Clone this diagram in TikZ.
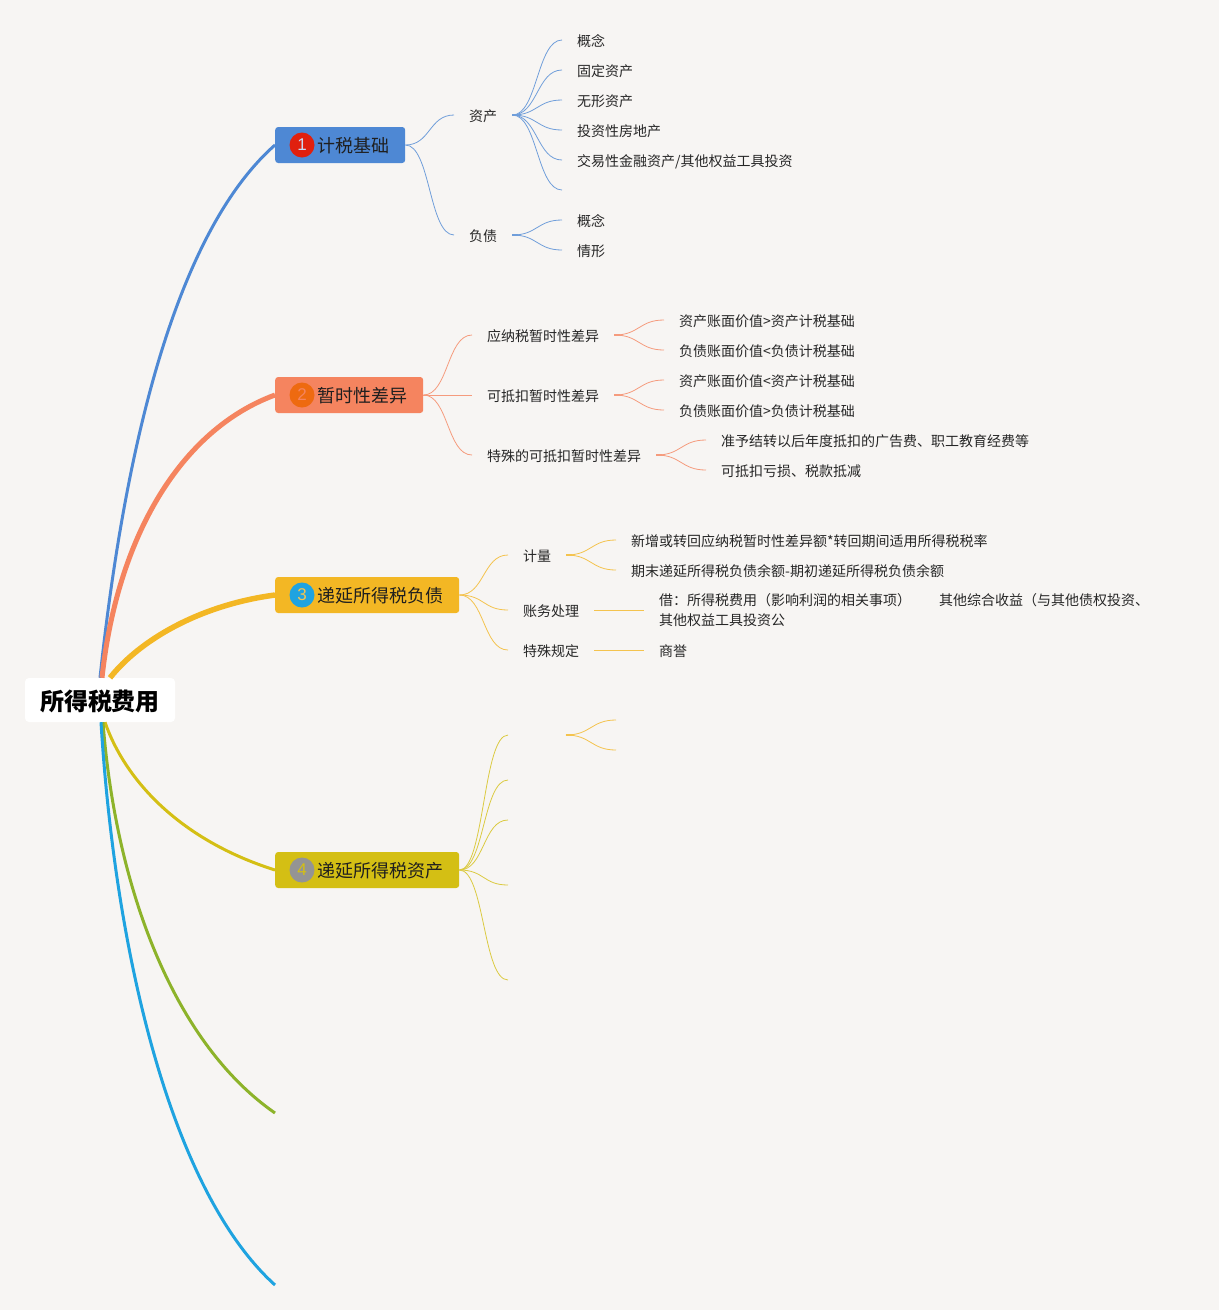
\documentclass[tikz,border=0pt]{standalone}
\usepackage{fontspec}
\setmainfont{Noto Sans CJK SC}
\newfontfamily\numfont{Liberation Sans}
\definecolor{bgc}{HTML}{F7F5F3}
\definecolor{cA}{HTML}{4E88D4}
\definecolor{cB}{HTML}{F5845F}
\definecolor{cC}{HTML}{F3B724}
\definecolor{cD}{HTML}{D4BF14}
\definecolor{cE}{HTML}{8DB32A}
\definecolor{cF}{HTML}{1FA3E0}
\definecolor{nA}{HTML}{E0200E}
\definecolor{nB}{HTML}{EE6A10}
\tikzset{
  root/.style={fill=white, rounded corners=4pt, minimum width=150pt, minimum height=44pt, inner sep=0pt, text height=22pt, text depth=.8pt, font=\fontsize{24}{24}\selectfont\bfseries},
  topic/.style={rounded corners=3pt, anchor=west, minimum height=36pt, inner ysep=0pt, inner xsep=0pt, text=black!88, text height=16.5pt, text depth=1.5pt, font=\fontsize{18}{18}\selectfont},
  badge/.style={circle, minimum size=25pt, inner sep=0pt, font=\fontsize{17}{17}\selectfont\numfont},
  leaf/.style={anchor=west, inner xsep=15pt, inner ysep=2pt, text=black!85, font=\fontsize{14}{14}\selectfont},
  oneline/.style={leaf, text height=13pt, text depth=1pt},
  twig/.style={line width=.8pt, #1!80!bgc},
  stub/.style={line width=1.8pt, #1!80!bgc},
}
\begin{document}
\begin{tikzpicture}[x=1pt, y=-1pt]
\fill[bgc] (0,0) rectangle (1219,1310);
\useasboundingbox (0,0) rectangle (1219,1310);

%main topics
\node[root] (rootA) at (100,700) {所得税费用};
\node[topic, fill=cA, minimum width=130pt] (topA) at (275,145) {\hspace*{27pt}计税基础};
\node[topic, fill=cB, minimum width=148pt] (topB) at (275,395) {\hspace*{27pt}暂时性差异};
\node[topic, fill=cC, minimum width=184pt] (topC) at (275,595) {\hspace*{27pt}递延所得税负债};
\node[topic, fill=cD, minimum width=184pt] (topD) at (275,870) {\hspace*{27pt}递延所得税资产};
\node[badge, fill=nA, text=cA!30!white] (numA) at (302,145) {1};
\node[badge, fill=nB, text=cB] (numB) at (302,395) {2};
\node[badge, fill=cF, text=cC!80!white] (numC) at (302,595) {3};
\node[badge, fill=black!42, text=cD] (numD) at (302,870) {4};
\coordinate (endE) at (275,1113);
\coordinate (endF) at (275,1285);

\draw[cA, line width=3pt] (rootA.north) .. controls +(30,-280) and +(-85,75) .. (topA.west);
\draw[cB, line width=5pt] ([xshift=2pt]rootA.north) .. controls +(15,-140) and +(-95,35) .. (topB.west);
\draw[cC, line width=5.5pt] ([xshift=10pt]rootA.north) .. controls +(30,-38) and +(-75,10) .. (topC.west);
\draw[cD, line width=3pt] ([xshift=5pt]rootA.south) .. controls +(20,58) and +(-95,-30) .. (topD.west);
\draw[cE, line width=3pt] ([xshift=3pt]rootA.south) .. controls +(12,158) and +(-105,-73) .. (endE);
\draw[cF, line width=3pt] ([xshift=1pt]rootA.south) .. controls +(14,228) and +(-105,-95) .. (endF);

%second level
\foreach \id/\xx/\yy/\txt in {
  zc/454/115/资产, fz/454/235/负债,
  yn/472/335/应纳税暂时性差异, kd/472/395/可抵扣暂时性差异, ts/472/455/特殊的可抵扣暂时性差异,
  jl/508/555/计量, zw/508/610/账务处理, gd/508/650/特殊规定,
  zcA/562/40/概念, zcB/562/70/固定资产, zcC/562/100/无形资产, zcD/562/130/投资性房地产,
  fzA/562/220/概念, fzB/562/250/情形,
  ynA/664/320/资产账面价值>资产计税基础, ynB/664/350/负债账面价值<负债计税基础,
  kdA/664/380/资产账面价值<资产计税基础, kdB/664/410/负债账面价值>负债计税基础,
  tsA/706/440/准予结转以后年度抵扣的广告费、职工教育经费等, tsB/706/470/可抵扣亏损、税款抵减,
  jlA/616/540/新增或转回应纳税暂时性差异额*转回期间适用所得税税率, jlB/616/570/期末递延所得税负债余额-期初递延所得税负债余额,
  gdA/644/650/商誉}
  {\node[oneline] (\id) at (\xx,\yy) {\txt};}
\node[oneline] (zcE) at (562,160) {交易性金融资产/其他权益工具投资};
\node[leaf, align=left] (zwA) at (644,610) {借：所得税费用（影响利润的相关事项）\hspace{28pt}其他综合收益（与其他债权投资、\\[6pt]其他权益工具投资公};

%branches without text
\coordinate (zcF) at (562,190);
\foreach \id/\xx/\yy in {ziA/508/735, ziB/508/780, ziC/508/820, ziD/508/885, ziE/508/980, ziF/616/720, ziG/616/750}
  {\coordinate (\id) at (\xx,\yy);}
\coordinate (ziS) at (566,735);

%connectors
\foreach \b in {zc,fz}
  {\draw[twig=cA] (topA.east) .. controls +(25,0) and +(-25,0) .. (\b.west);}
\foreach \b in {yn,kd,ts}
  {\draw[twig=cB] (topB.east) .. controls +(25,0) and +(-25,0) .. (\b.west);}
\foreach \b in {jl,zw,gd}
  {\draw[twig=cC] (topC.east) .. controls +(25,0) and +(-25,0) .. (\b.west);}
\foreach \b in {ziA,ziB,ziC,ziD,ziE}
  {\draw[twig=cD] (topD.east) .. controls +(25,0) and +(-25,0) .. (\b);}

\foreach \a/\b/\c in {zc/zcA/cA, zc/zcB/cA, zc/zcC/cA, zc/zcD/cA, zc/zcE/cA, fz/fzA/cA, fz/fzB/cA,
  yn/ynA/cB, yn/ynB/cB, kd/kdA/cB, kd/kdB/cB, ts/tsA/cB, ts/tsB/cB, jl/jlA/cC, jl/jlB/cC}
  {\draw[stub=\c] (\a.east) -- ++(6,0);
   \draw[twig=\c] (\a.east) .. controls +(25,0) and +(-25,0) .. (\b.west);}
\draw[twig=cA] (zc.east) .. controls +(25,0) and +(-25,0) .. (zcF);
\draw[twig=cC, line width=1pt] (zw.east) -- (zwA.west);
\draw[twig=cC, line width=1pt] (gd.east) -- (gdA.west);
\draw[stub=cC] (ziS) -- ++(6,0);
\draw[twig=cC] (ziS) .. controls +(25,0) and +(-25,0) .. (ziF);
\draw[twig=cC] (ziS) .. controls +(25,0) and +(-25,0) .. (ziG);
\end{tikzpicture}
\end{document}
